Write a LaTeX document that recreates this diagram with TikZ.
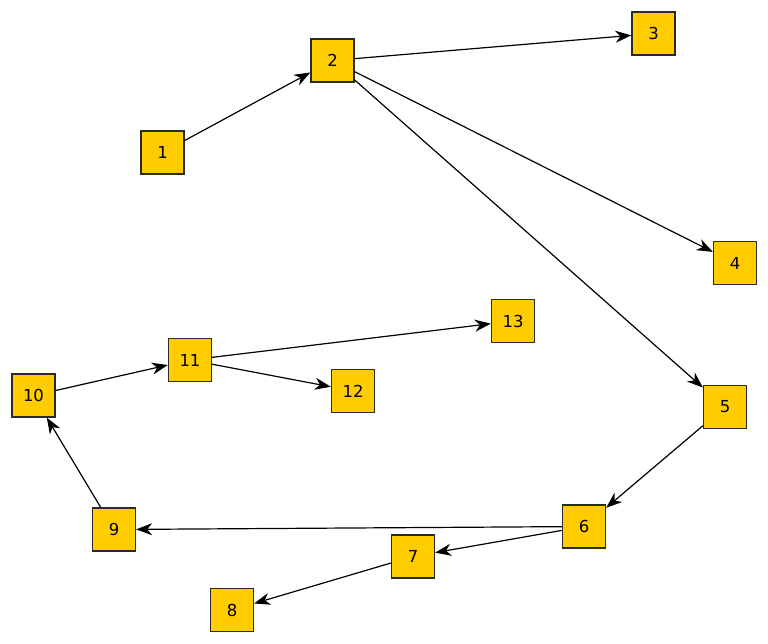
\documentclass[tikz,border=0pt]{standalone}
\usepackage{fontspec}
\setmainfont{DejaVu Sans}
\usetikzlibrary{arrows.meta}
\definecolor{boxfill}{HTML}{FFCC00}
\definecolor{boxline}{HTML}{2A2A2A}
\tikzset{
  box/.style={draw=boxline,fill=boxfill,line width=1.3pt,minimum size=43pt,inner sep=0pt,font=\fontsize{16.5}{18}\selectfont},
  link/.style={draw=black,line width=1.2pt,arrows={-Stealth[length=16pt,width=12pt,inset=5pt]}}}
\begin{document}
\begin{tikzpicture}[x=1pt,y=-1pt]
\useasboundingbox (0,0) rectangle (768,643);
\node[box] (n1) at (162.5,152.5) {1};
\node[box] (n2) at (332.5,60.5) {2};
\node[box] (n3) at (653.5,33.5) {3};
\node[box] (n4) at (735,263) {4};
\node[box] (n5) at (725,407) {5};
\node[box] (n6) at (584,526.5) {6};
\node[box] (n7) at (413,556.5) {7};
\node[box] (n8) at (232,610) {8};
\node[box] (n9) at (114,529.5) {9};
\node[box] (n10) at (33.5,395.5) {10};
\node[box] (n11) at (190,360) {11};
\node[box] (n12) at (353,391) {12};
\node[box] (n13) at (513,321) {13};
\draw[link] (n1) -- (n2);
\draw[link] (n2) -- (n3);
\draw[link] (n2) -- (n4);
\draw[link] (n2) -- (n5);
\draw[link] (n5) -- (n6);
\draw[link] (n6) -- (n9);
\draw[link] (n6) -- (n7);
\draw[link] (n7) -- (n8);
\draw[link] (n9) -- (n10);
\draw[link] (n10) -- (n11);
\draw[link] (n11) -- (n13);
\draw[link] (n11) -- (n12);
\end{tikzpicture}
\end{document}
